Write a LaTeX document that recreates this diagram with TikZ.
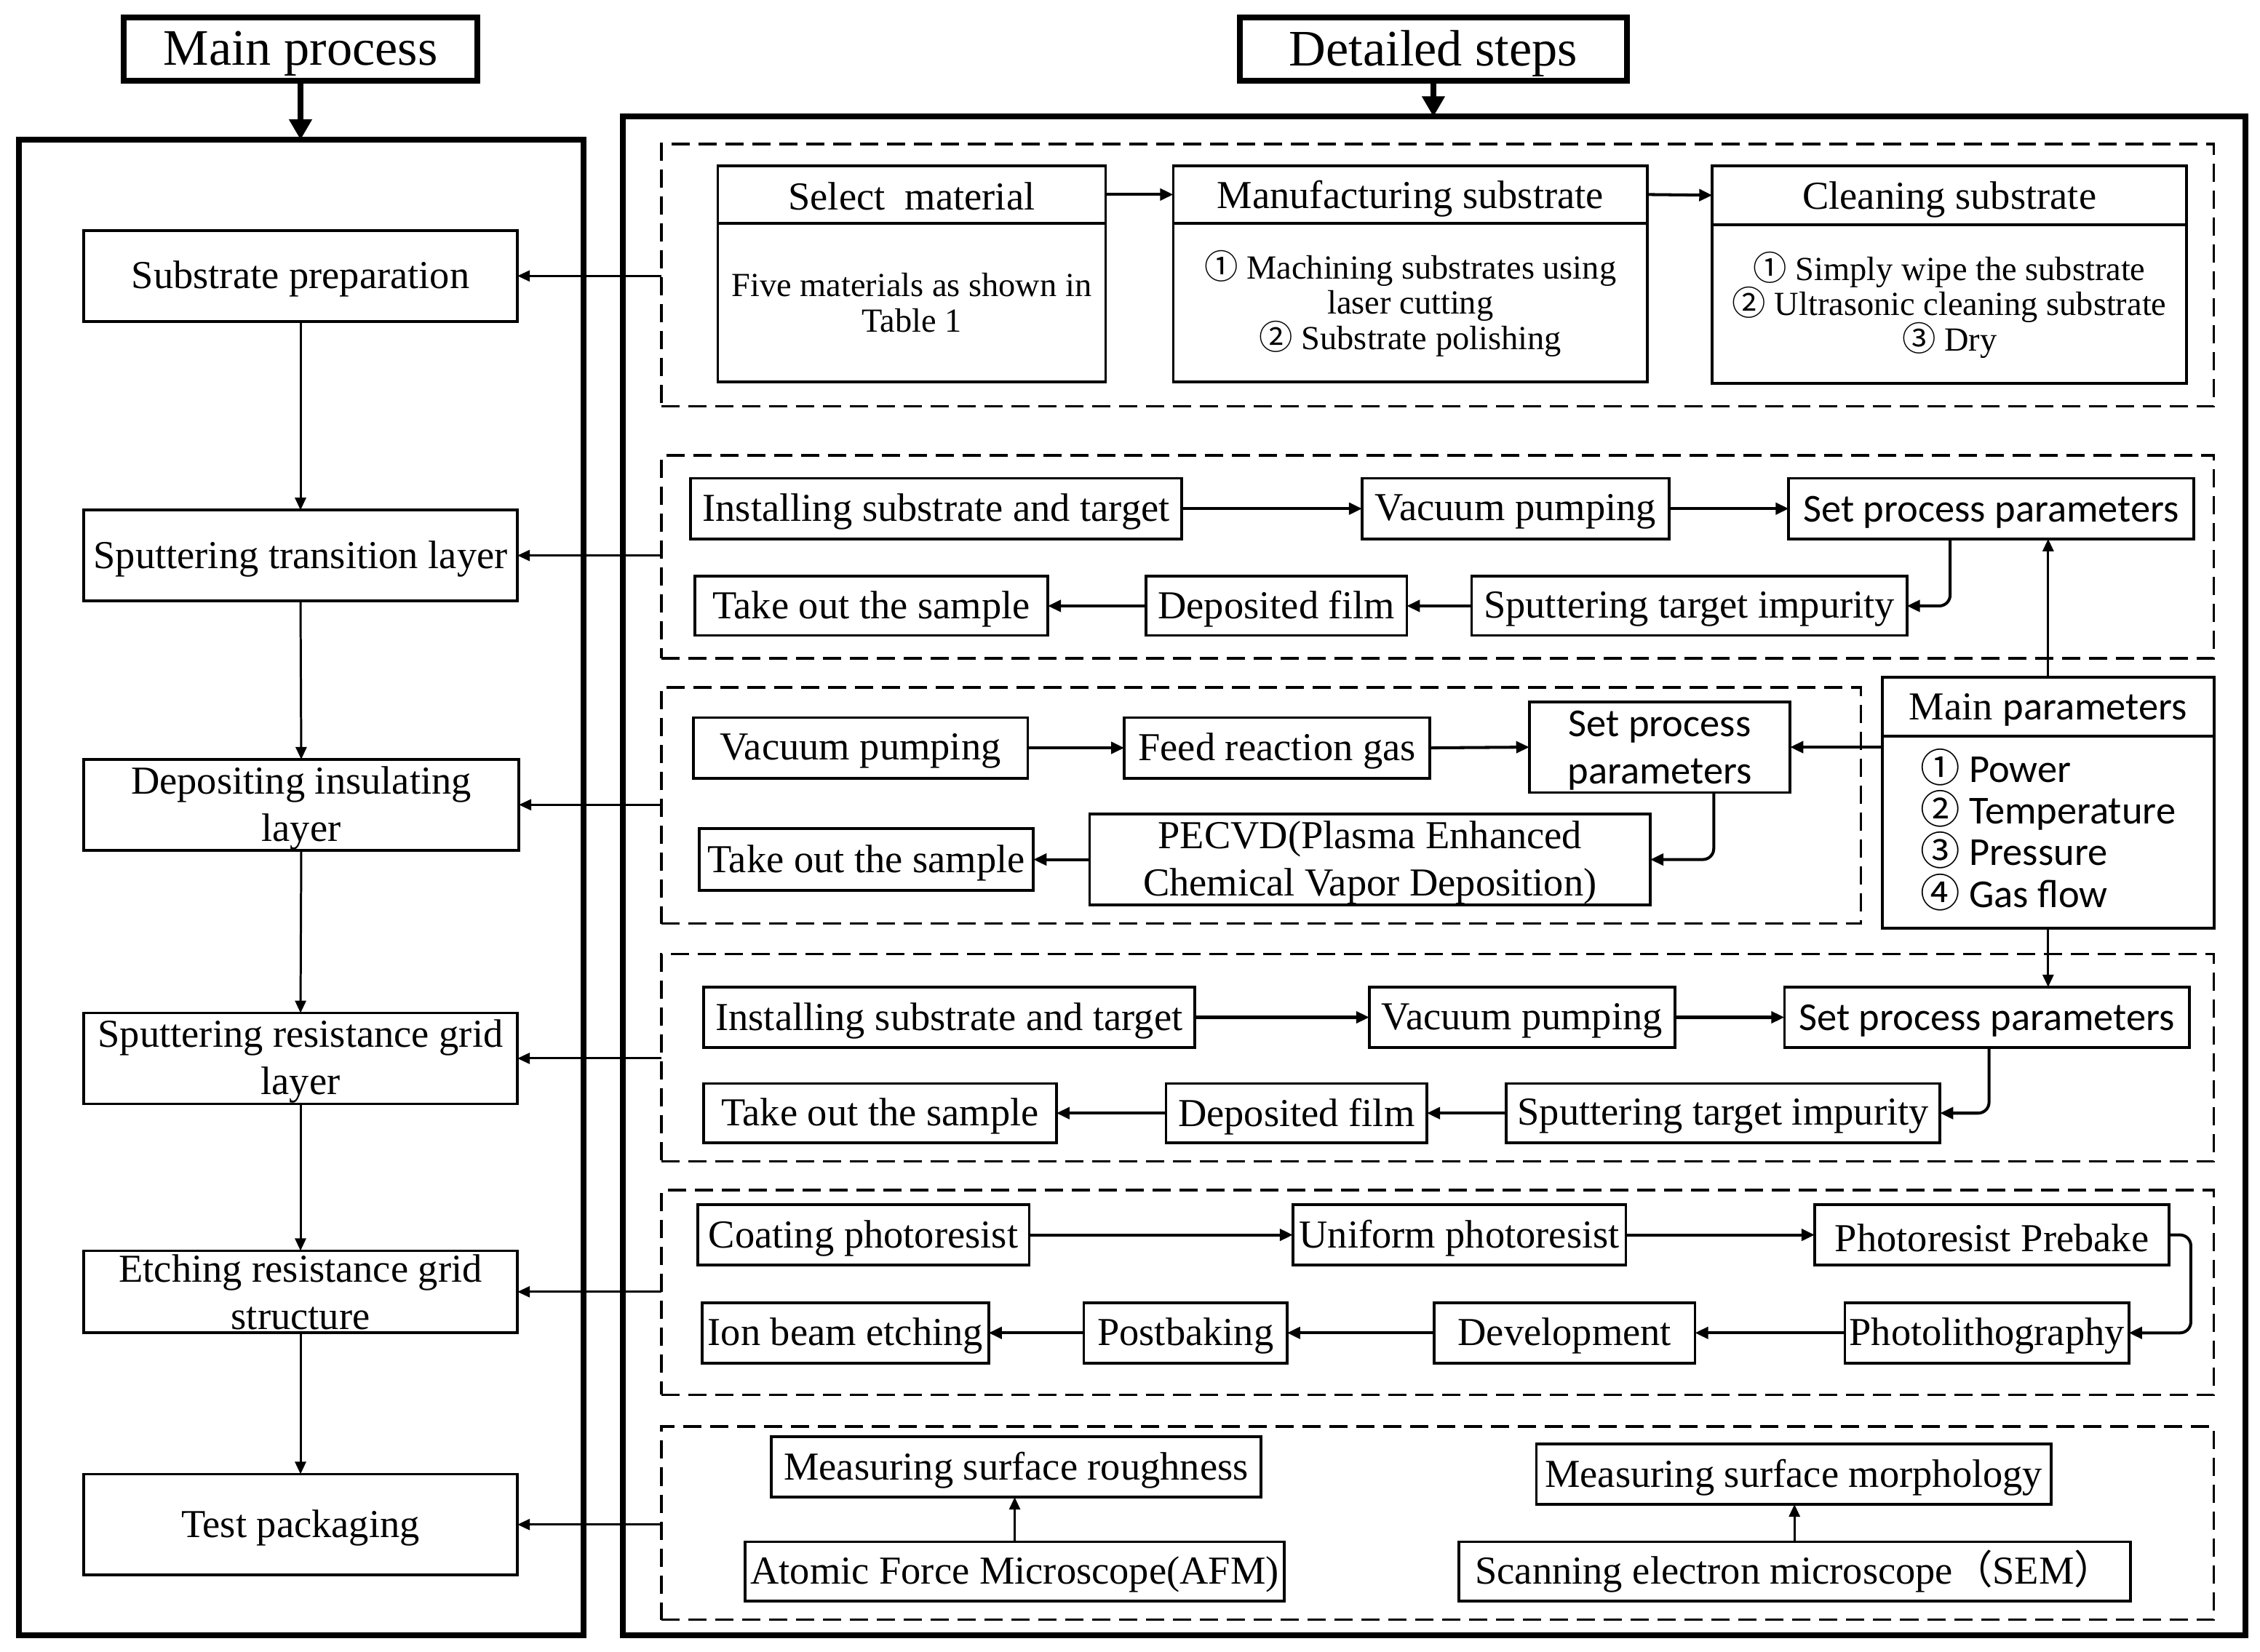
\documentclass[tikz,border=0pt]{standalone}
\usepackage{fontspec}
\setmainfont{Liberation Serif}
\newfontfamily\calfont{Carlito}
\newfontfamily\cjkfont{Noto Sans CJK SC}
\usetikzlibrary{arrows.meta}
\newcommand\cn[1]{\smash{\cjkfont #1}}
\newcommand\mkbox[7]{\node[#7, minimum width={(#4-#2)*0.01981cm}, minimum height={(#5-#3)*0.01981cm}] (#1) at ({(#2+#4)/2},{(#3+#5)/2}) {};
  \node[#7, draw=none, yshift=-\tshift] at (#1.center) {#6};}
\newcommand\tshift{0.045cm}
\tikzset{
  box/.style={draw, line width=1.05pt, inner sep=0pt, outer sep=0pt, align=center, font={\fontsize{15.5}{18.5}\selectfont}},
  cbox/.style={box, font={\fontsize{15.5}{18.5}\calfont\selectfont}},
  sbox/.style={box, font={\fontsize{13.2}{13.8}\selectfont}},
  pbox/.style={box, align=left, font={\fontsize{15.5}{16.3}\calfont\selectfont}},
  frame/.style={draw, line width=2.3pt, inner sep=0pt, outer sep=0pt},
  hdr/.style={frame, align=center, font={\fontsize{20}{24}\selectfont}},
  dbox/.style={draw, line width=1pt, dash pattern=on 0.25cm off 0.12cm, inner sep=0pt, outer sep=0pt},
  arr/.style={-{Triangle[length=0.17cm,width=0.15cm]}, line width=0.85pt},
  harr/.style={-{Triangle[length=0.18cm,width=0.16cm]}, line width=1.15pt},
  bigarr/.style={-{Triangle[length=0.28cm,width=0.3cm]}, line width=2.3pt},
  rarr/.style={harr, rounded corners=0.15cm}
}
\begin{document}
\begin{tikzpicture}[x=0.01981cm, y=-0.01981cm]
\path[use as bounding box] (0,0) rectangle (1568,1146);
% dashed groups
\mkbox{g1}{459}{100}{1536}{282}{}{dbox}
\mkbox{g2}{459}{316}{1536}{457}{}{dbox}
\mkbox{g3}{459}{477}{1291}{641}{}{dbox}
\mkbox{g4}{459}{662}{1536}{806}{}{dbox}
\mkbox{g5}{459}{826}{1536}{968}{}{dbox}
\mkbox{g6}{459}{990}{1536}{1124}{}{dbox}
% headers
\renewcommand\tshift{0.065cm}
\mkbox{mainhdr}{86}{12}{331}{56}{Main process}{hdr}
\mkbox{dethdr}{860}{12}{1129}{56}{Detailed steps}{hdr}
\renewcommand\tshift{0.045cm}
% left column
\mkbox{leftframe}{13}{97}{405}{1135}{}{frame}
\mkbox{subprep}{58}{160}{359}{223}{Substrate preparation}{box}
\mkbox{sputtrans}{58}{354}{359}{417}{Sputtering transition layer}{box}
\mkbox{depins}{58}{527}{360}{590}{Depositing insulating\\layer}{box}
\mkbox{sputres}{58}{703}{359}{766}{Sputtering resistance grid\\layer}{box}
\renewcommand\tshift{0.005cm}
\mkbox{etch}{58}{868}{359}{925}{Etching resistance grid\\structure}{box}
\renewcommand\tshift{0.045cm}
\mkbox{testpack}{58}{1023}{359}{1093}{Test packaging}{box}
% right column
\mkbox{rightframe}{432}{81}{1558}{1135}{}{frame}
% group 1
\renewcommand\tshift{0.02cm}
\mkbox{selh}{498}{115}{767}{155}{Select~~material}{box}
\renewcommand\tshift{0.06cm}
\mkbox{manh}{814}{115}{1143}{155}{Manufacturing substrate}{box}
\mkbox{clnh}{1188}{115}{1517}{156}{Cleaning substrate}{box}
\renewcommand\tshift{0.0cm}
\mkbox{selb}{498}{155}{767}{265}{Five materials as shown in\\Table 1}{sbox}
\renewcommand\tshift{0.045cm}
\mkbox{manb}{814}{155}{1143}{265}{\cn{①} Machining substrates using\\laser cutting\\\cn{②} Substrate polishing}{sbox}
\mkbox{clnb}{1188}{156}{1517}{266}{\cn{①} Simply wipe the substrate\\\cn{②} Ultrasonic cleaning substrate\\\cn{③} Dry}{sbox}
% group 2
\mkbox{g2inst}{479}{332}{820}{374}{Installing substrate and target}{box}
\mkbox{g2vac}{945}{332}{1158}{374}{Vacuum pumping}{box}
\mkbox{g2set}{1241}{332}{1522}{374}{Set process parameters}{cbox}
\mkbox{g2take}{482}{400}{727}{441}{Take out the sample}{box}
\mkbox{g2dep}{795}{400}{976}{441}{Deposited film}{box}
\mkbox{g2sput}{1021}{400}{1323}{441}{Sputtering target impurity}{box}
% group 3
\mkbox{g3vac}{481}{498}{713}{540}{Vacuum pumping}{box}
\mkbox{g3feed}{780}{498}{992}{540}{Feed reaction gas}{box}
\mkbox{g3set}{1061}{487}{1242}{550}{Set process\\parameters}{cbox}
\mkbox{g3take}{485}{575}{717}{618}{Take out the sample}{box}
\mkbox{pecvd}{756}{565}{1145}{628}{PECVD(Plasma Enhanced\\Chemical Vapor Deposition)}{box}
% main parameters
\mkbox{mph}{1306}{470}{1536}{511}{Main {\calfont parameters}}{box}
\renewcommand\tshift{0.0cm}
\mkbox{mpb}{1306}{511}{1536}{644}{\cn{①} Power\\\cn{②} Temperature\\\cn{③} Pressure\\\cn{④} Gas flow}{pbox}
\renewcommand\tshift{0.045cm}
% group 4
\mkbox{g4inst}{488}{685}{829}{727}{Installing substrate and target}{box}
\mkbox{g4vac}{950}{685}{1162}{727}{Vacuum pumping}{box}
\mkbox{g4set}{1238}{685}{1519}{727}{Set process parameters}{cbox}
\mkbox{g4take}{488}{752}{733}{793}{Take out the sample}{box}
\mkbox{g4dep}{809}{752}{990}{793}{Deposited film}{box}
\mkbox{g4sput}{1045}{752}{1346}{793}{Sputtering target impurity}{box}
% group 5
\mkbox{coat}{484}{836}{714}{878}{Coating photoresist}{box}
\mkbox{unif}{897}{836}{1128}{878}{Uniform photoresist}{box}
\mkbox{preb}{1259}{836}{1505}{878}{Photoresist Prebake}{box}
\mkbox{ionb}{487}{904}{686}{946}{Ion beam etching}{box}
\mkbox{postb}{752}{904}{893}{946}{Postbaking}{box}
\mkbox{devel}{995}{904}{1176}{946}{Development}{box}
\mkbox{photol}{1280}{904}{1477}{946}{Photolithography}{box}
% group 6
\mkbox{rough}{535}{997}{875}{1039}{Measuring surface roughness}{box}
\mkbox{afm}{517}{1070}{891}{1111}{Atomic Force Microscope(AFM)}{box}
\mkbox{morph}{1066}{1002}{1423}{1044}{Measuring surface morphology}{box}
\mkbox{sem}{1012}{1070}{1478}{1111}{Scanning electron microscope\cn{（}SEM\cn{）}}{box}
% header arrows
\draw[bigarr] (mainhdr.south) -- (mainhdr.south |- leftframe.north);
\draw[bigarr] (dethdr.south) -- (dethdr.south |- rightframe.north);
% left column arrows
\draw[arr] (subprep.south) -- (sputtrans.north);
\draw[arr] (sputtrans.south) -- (depins.north);
\draw[arr] (depins.south) -- (sputres.north);
\draw[arr] (sputres.south) -- (etch.north);
\draw[arr] (etch.south) -- (testpack.north);
% group to main process
\draw[arr] (subprep.east -| g1.west) -- (subprep.east);
\draw[arr] (sputtrans.east -| g2.west) -- (sputtrans.east);
\draw[arr] (depins.east -| g3.west) -- (depins.east);
\draw[arr] (sputres.east -| g4.west) -- (sputres.east);
\draw[arr] (etch.east -| g5.west) -- (etch.east);
\draw[arr] (testpack.east -| g6.west) -- (testpack.east);
% group 1
\draw[harr] (selh.east) -- (manh.west);
\draw[harr] (manh.east) -- (clnh.west);
% group 2
\draw[harr] (g2inst.east) -- (g2vac.west);
\draw[harr] (g2vac.east) -- (g2set.west);
\draw[rarr] (g2set.south west) ++(112,0) |- (g2sput.east);
\draw[harr] (g2sput.west) -- (g2dep.east);
\draw[harr] (g2dep.west) -- (g2take.east);
% group 3
\draw[harr] (g3vac.east) -- (g3feed.west);
\draw[harr] (g3feed.east) -- (g3set.west);
\draw[rarr] (g3set.south west) ++(128,0) |- (pecvd.east);
\draw[harr] (pecvd.west) -- (g3take.east);
% main parameters
\draw[arr] (mph.north) -- (mph.north |- g2set.south);
\draw[harr] (g3set.east -| mpb.west) -- (g3set.east);
\draw[arr] (mpb.south) -- (mpb.south |- g4set.north);
% group 4
\draw[harr] (g4inst.east) -- (g4vac.west);
\draw[harr] (g4vac.east) -- (g4set.west);
\draw[rarr] (g4set.south west) ++(142,0) |- (g4sput.east);
\draw[harr] (g4sput.west) -- (g4dep.east);
\draw[harr] (g4dep.west) -- (g4take.east);
% group 5
\draw[harr] (coat.east) -- (unif.west);
\draw[harr] (unif.east) -- (preb.west);
\draw[rarr] (preb.east) -- ++(15,0) |- (photol.east);
\draw[harr] (photol.west) -- (devel.east);
\draw[harr] (devel.west) -- (postb.east);
\draw[harr] (postb.west) -- (ionb.east);
% group 6
\draw[arr] (afm.north) -- (afm.north |- rough.south);
\draw[arr] (sem.north) -- (sem.north |- morph.south);
\end{tikzpicture}
\end{document}
